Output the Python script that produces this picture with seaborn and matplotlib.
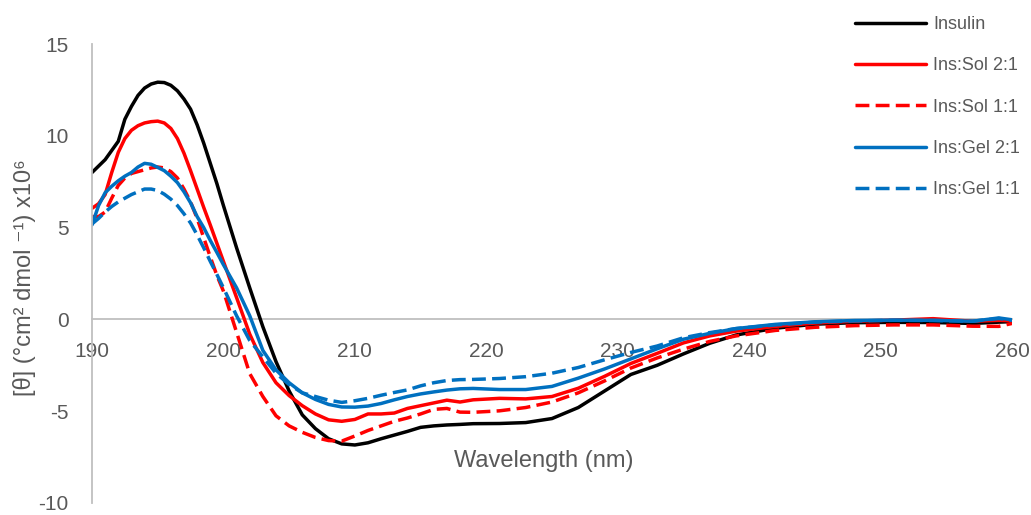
import numpy as np
import pandas as pd
import matplotlib
matplotlib.use("Agg")
import matplotlib.pyplot as plt
import seaborn as sns

# Wavelength grid (nm)
wavelength = [190, 190.5, 191, 191.5, 192, 192.5, 193, 193.5, 194, 194.5,
              195, 195.5, 196, 196.5, 197, 197.5, 198, 198.5, 199, 199.5,
              200, 201, 202, 203, 204, 205, 206, 207, 208, 209,
              210, 211, 212, 213, 214, 215, 216, 217, 218, 219,
              221, 223, 225, 227, 229, 231, 233, 235, 237, 239,
              242, 245, 248, 251, 254, 257, 259, 260]

# Mean residue ellipticity (x10^6)
insulin = [8.0, 8.35, 8.7, 9.2, 9.7, 10.9, 11.6, 12.2, 12.6, 12.82,
           12.92, 12.9, 12.75, 12.45, 12.0, 11.45, 10.6, 9.6, 8.5, 7.4,
           6.2, 3.9, 1.72, -0.4, -2.3, -3.9, -5.2, -5.95, -6.5, -6.78,
           -6.84, -6.72, -6.5, -6.3, -6.1, -5.88, -5.8, -5.75, -5.72, -5.68,
           -5.67, -5.62, -5.4, -4.8, -3.9, -3.0, -2.5, -1.88, -1.3, -0.85,
           -0.48, -0.26, -0.18, -0.16, -0.17, -0.22, -0.15, -0.12]

sol_2_1 = [6.05, 6.3, 6.8, 8.0, 9.1, 9.85, 10.3, 10.55, 10.7, 10.77,
           10.8, 10.7, 10.4, 9.85, 9.05, 8.1, 7.1, 6.1, 5.14, 4.15,
           3.16, 1.19, -0.8, -2.35, -3.45, -4.15, -4.7, -5.15, -5.47, -5.55,
           -5.45, -5.15, -5.15, -5.1, -4.85, -4.7, -4.55, -4.4, -4.5, -4.38,
           -4.3, -4.33, -4.2, -3.75, -3.1, -2.4, -1.85, -1.28, -0.9, -0.64,
           -0.38, -0.2, -0.1, -0.04, 0.04, -0.1, -0.05, -0.08]

sol_1_1 = [5.6, 5.6, 5.85, 6.6, 7.3, 7.7, 7.95, 8.05, 8.15, 8.25,
           8.3, 8.25, 8.05, 7.7, 7.1, 6.4, 5.5, 4.45, 3.4, 2.4,
           1.54, -0.7, -2.95, -4.2, -5.25, -5.8, -6.15, -6.43, -6.6, -6.63,
           -6.35, -6.05, -5.8, -5.55, -5.37, -5.15, -4.9, -4.85, -5.05, -5.06,
           -4.98, -4.8, -4.5, -4.0, -3.35, -2.65, -2.1, -1.62, -1.2, -0.9,
           -0.6, -0.43, -0.34, -0.3, -0.3, -0.37, -0.38, -0.22]

gel_2_1 = [5.15, 6.2, 6.9, 7.25, 7.55, 7.8, 8.0, 8.3, 8.5, 8.45,
           8.28, 8.1, 7.8, 7.45, 6.95, 6.35, 5.6, 5.0, 4.3, 3.65,
           2.98, 1.72, 0.2, -1.69, -2.75, -3.45, -4.0, -4.36, -4.63, -4.77,
           -4.78, -4.72, -4.58, -4.38, -4.2, -4.06, -3.95, -3.85, -3.78, -3.76,
           -3.82, -3.82, -3.65, -3.2, -2.7, -2.15, -1.6, -1.08, -0.76, -0.5,
           -0.27, -0.13, -0.06, -0.04, -0.05, -0.1, 0.08, -0.02]

gel_1_1 = [5.2, 5.5, 5.85, 6.15, 6.4, 6.6, 6.8, 6.95, 7.1, 7.1,
           7.02, 6.82, 6.55, 6.2, 5.75, 5.25, 4.6, 3.9, 3.16, 2.45,
           1.72, 0.2, -1.15, -2.04, -2.93, -3.55, -4.0, -4.2, -4.4, -4.52,
           -4.43, -4.3, -4.13, -3.98, -3.84, -3.62, -3.45, -3.33, -3.28, -3.27,
           -3.22, -3.12, -2.93, -2.62, -2.2, -1.8, -1.45, -1.0, -0.72, -0.5,
           -0.3, -0.15, -0.08, -0.05, -0.06, -0.1, 0.05, -0.05]

labels = ["Insulin", "Ins:Sol 2:1", "Ins:Sol 1:1", "Ins:Gel 2:1", "Ins:Gel 1:1"]
series = [insulin, sol_2_1, sol_1_1, gel_2_1, gel_1_1]
colors = ["#000000", "#FF0000", "#FF0000", "#0070C0", "#0070C0"]
dash_styles = ["", "", (4, 1.8), "", (4, 1.8)]

x_ticks = [190, 200, 210, 220, 230, 240, 250, 260]
y_ticks = [-10, -5, 0, 5, 10, 15]

df = pd.concat(
    [pd.DataFrame({"wavelength": wavelength, "theta": vals, "sample": name})
     for name, vals in zip(labels, series)],
    ignore_index=True,
)

sns.set_theme(style="white")
plt.rcParams["font.family"] = ["Liberation Sans", "DejaVu Sans"]

grey_text = "#595959"
axis_grey = "#BFBFBF"

fig = plt.figure(figsize=(10.31, 5.15), dpi=100)
ax = fig.add_axes([92 / 1031, 12 / 515, 920 / 1031, 459 / 515])

sns.lineplot(
    data=df, x="wavelength", y="theta", hue="sample", style="sample",
    hue_order=labels, style_order=labels,
    palette=dict(zip(labels, colors)),
    dashes=dict(zip(labels, dash_styles)),
    estimator=None, linewidth=2.5, ax=ax, legend=True,
)

ax.set_xlim(190, 260)
ax.set_ylim(-10, 15)
ax.set_xticks(x_ticks)
ax.set_yticks(y_ticks)
ax.set_xticklabels([str(v) for v in x_ticks])
ax.set_yticklabels([str(v) for v in y_ticks])

for side in ("top", "right"):
    ax.spines[side].set_visible(False)
ax.spines["bottom"].set_position(("data", 0))
for side in ("left", "bottom"):
    ax.spines[side].set_color(axis_grey)
    ax.spines[side].set_linewidth(1.3)
ax.spines["bottom"].set_zorder(0)

ax.tick_params(axis="x", length=0, pad=16, labelsize=15, labelcolor=grey_text)
ax.tick_params(axis="y", length=0, pad=17, labelsize=15, labelcolor=grey_text)

ax.set_xlabel("Wavelength (nm)", fontsize=17, color=grey_text)
ax.xaxis.set_label_coords(0.491, 0.092)
ax.xaxis.label.set_va("center")

ax.set_ylabel("[θ] (°cm² dmol ⁻¹) x10⁶", fontsize=17, color=grey_text)
ax.yaxis.set_label_coords(-0.073, 0.49)
ax.yaxis.label.set_va("center")

handles, hl = ax.get_legend_handles_labels()
leg = ax.legend(
    handles, hl, loc="upper left", bbox_to_anchor=(839 / 1031, 1.0),
    bbox_transform=fig.transFigure, frameon=False, fontsize=13,
    handlelength=3.9, handletextpad=0.4, labelspacing=1.34,
)
for t in leg.get_texts():
    t.set_color(grey_text)
for line in leg.get_lines():
    line.set_linewidth(2.5)

fig.savefig("out.png", dpi=100)
